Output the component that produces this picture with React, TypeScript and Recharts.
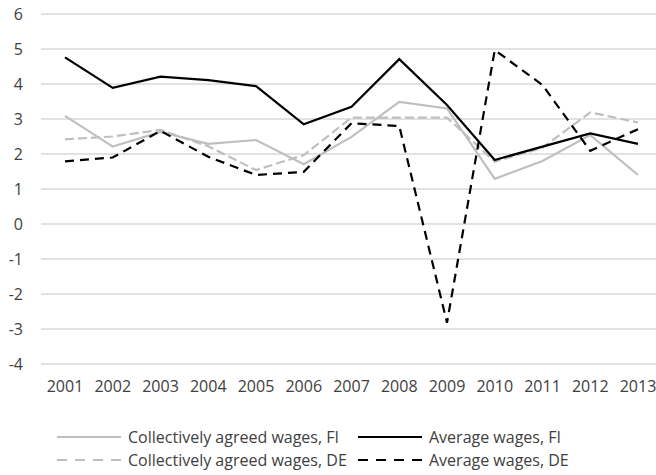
import React from 'react';
import { LineChart, Line, XAxis, YAxis, CartesianGrid, Legend } from 'recharts';

const years = ['2001', '2002', '2003', '2004', '2005', '2006', '2007', '2008', '2009', '2010', '2011', '2012', '2013'];
const agreedFI = [3.09, 2.21, 2.63, 2.29, 2.4, 1.71, 2.49, 3.49, 3.3, 1.29, 1.8, 2.54, 1.4];
const averageFI = [4.76, 3.89, 4.21, 4.11, 3.94, 2.85, 3.35, 4.71, 3.4, 1.83, 2.21, 2.59, 2.29];
const agreedDE = [2.42, 2.5, 2.69, 2.22, 1.54, 1.97, 3.04, 3.04, 3.04, 1.78, 2.18, 3.19, 2.9];
const averageDE = [1.79, 1.9, 2.66, 1.92, 1.4, 1.49, 2.88, 2.8, -2.82, 4.97, 3.97, 2.09, 2.71];
const yTicks = [-4, -3, -2, -1, 0, 1, 2, 3, 4, 5, 6];

const seriesNames = {
  agreedFI: 'Collectively agreed wages, FI',
  averageFI: 'Average wages, FI',
  agreedDE: 'Collectively agreed wages, DE',
  averageDE: 'Average wages, DE',
};

const data = years.map((y, i) => ({
  year: y,
  agreedFI: agreedFI[i],
  averageFI: averageFI[i],
  agreedDE: agreedDE[i],
  averageDE: averageDE[i],
}));

const FONT = '"Open Sans", sans-serif';
const GRAY = '#bfbfbf';
const BLACK = '#000000';
const TEXT = '#404040';

const legendItems = [
  { key: 'agreedFI', color: GRAY, dash: undefined as string | undefined, x: 57, y: 437 },
  { key: 'averageFI', color: BLACK, dash: undefined as string | undefined, x: 358, y: 437 },
  { key: 'agreedDE', color: GRAY, dash: '10 8', x: 57, y: 460 },
  { key: 'averageDE', color: BLACK, dash: '10 8', x: 358, y: 460 },
];

const CustomLegend = () => (
  <svg width={656} height={60} style={{ display: 'block' }}>
    {legendItems.map((it) => (
      <g key={it.key}>
        <line
          x1={it.x}
          x2={it.x + 64}
          y1={it.y - 425}
          y2={it.y - 425}
          stroke={it.color}
          strokeWidth={2.2}
          strokeDasharray={it.dash}
        />
        <text
          x={it.x + 71}
          y={it.y - 425}
          dy="0.355em"
          fontFamily={FONT}
          fontSize={16}
          fill={TEXT}
        >
          {(seriesNames as any)[it.key]}
        </text>
      </g>
    ))}
  </svg>
);

export default function App() {
  return (
    <div
      style={{
        position: 'fixed',
        left: 0,
        top: 0,
        width: 656,
        height: 475,
        overflow: 'hidden',
        background: '#ffffff',
      }}
    >
      <LineChart
        width={662}
        height={475}
        data={data}
        margin={{ top: 14, right: 0, left: 0, bottom: 0 }}
        style={{ fontFamily: FONT }}
      >
        <CartesianGrid vertical={false} stroke="#d9d9d9" strokeWidth={1.5} />
        <XAxis
          dataKey="year"
          height={111}
          axisLine={false}
          tickLine={false}
          tickSize={0}
          tickMargin={17}
          padding={{ left: 24, right: 24 }}
          interval={0}
          tick={{ fill: TEXT, fontSize: 16, fontFamily: FONT }}
        />
        <YAxis
          width={41}
          domain={[-4, 6]}
          ticks={yTicks}
          axisLine={false}
          tickLine={false}
          tickSize={0}
          tickMargin={18}
          interval={0}
          tick={{ fill: TEXT, fontSize: 16, fontFamily: FONT }}
        />
        <Legend
          layout="horizontal"
          verticalAlign="middle"
          align="center"
          content={<CustomLegend />}
          wrapperStyle={{ position: 'absolute', left: 0, top: 425, width: 656, height: 50 }}
        />
        <Line dataKey="agreedFI" name={seriesNames.agreedFI} stroke={GRAY} strokeWidth={2.2} dot={false} isAnimationActive={false} />
        <Line dataKey="agreedDE" name={seriesNames.agreedDE} stroke={GRAY} strokeWidth={2.2} strokeDasharray="9 4" dot={false} isAnimationActive={false} />
        <Line dataKey="averageFI" name={seriesNames.averageFI} stroke={BLACK} strokeWidth={2.2} dot={false} isAnimationActive={false} />
        <Line dataKey="averageDE" name={seriesNames.averageDE} stroke={BLACK} strokeWidth={2.2} strokeDasharray="9 6" dot={false} isAnimationActive={false} />
      </LineChart>
    </div>
  );
}
